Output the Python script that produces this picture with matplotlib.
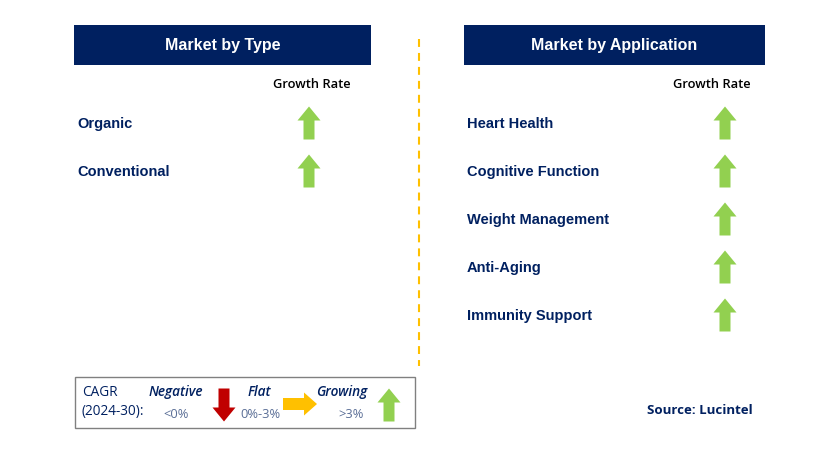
import matplotlib.pyplot as plt
from matplotlib.patches import Rectangle, Polygon

# ----------------------------
# Data
# ----------------------------
type_labels = ["Organic", "Conventional"]
type_growth = ["up", "up"]

app_labels = ["Heart Health", "Cognitive Function", "Weight Management",
              "Anti-Aging", "Immunity Support"]
app_growth = ["up", "up", "up", "up", "up"]

legend_names = ["Negative", "Flat", "Growing"]
legend_ranges = ["<0%", "0%-3%", ">3%"]
legend_dirs = ["down", "right", "up"]

NAVY = "#002060"
ARROW_COLORS = {"up": "#92D050", "down": "#C00000", "right": "#FFC000"}
BOLD_FONT = "Liberation Sans"
LIGHT_FONT = "Open Sans"


def arrow(ax, cx, cy, direction, length=33, width=23, head=14, shaft=11):
    # vertices for an up arrow centred at (0, 0); y grows downward on screen
    h = length / 2
    pts = [(-shaft / 2, h), (-shaft / 2, -h + head), (-width / 2, -h + head),
           (0, -h), (width / 2, -h + head), (shaft / 2, -h + head), (shaft / 2, h)]
    if direction == "down":
        pts = [(x, -y) for x, y in pts]
    elif direction == "right":
        pts = [(-y, x) for x, y in pts]
    pts = [(cx + x, cy + y) for x, y in pts]
    ax.add_patch(Polygon(pts, closed=True, color=ARROW_COLORS[direction], lw=0))


fig = plt.figure(figsize=(8.29, 4.54), dpi=100)
ax = fig.add_axes([0, 0, 1, 1])
ax.set_xlim(0, 829)
ax.set_ylim(454, 0)
ax.axis("off")

# ----------------------------
# Two panels
# ----------------------------
panels = [
    ("Market by Type", type_labels, type_growth, 74, 297, 77, 309, 312),
    ("Market by Application", app_labels, app_growth, 464, 301, 467, 725, 712),
]
for title, labels, growth, x0, w, lx, arrow_x, gr_x in panels:
    ax.add_patch(Rectangle((x0, 25), w, 40, color=NAVY, lw=0))
    ax.text(x0 + w / 2, 45.5, title, color="white", fontsize=11.5,
            fontweight="bold", family=BOLD_FONT, ha="center", va="center")
    ax.text(gr_x, 84, "Growth Rate", fontsize=9.3, family=LIGHT_FONT,
            fontweight="semibold", color="black", ha="center", va="center")
    for i, (lab, g) in enumerate(zip(labels, growth)):
        y = 124 + 48 * i
        ax.text(lx, y, lab, color=NAVY, fontsize=10.5, fontweight="bold",
                family=BOLD_FONT, ha="left", va="center")
        arrow(ax, arrow_x, y - 1, g)

# dashed divider
ax.plot([419, 419], [39, 366], color="#FFC000", lw=1.5, ls=(0, (3.8, 2.9)))

# ----------------------------
# Legend box
# ----------------------------
ax.add_patch(Rectangle((75, 377), 340, 51, fill=False, ec="#808080", lw=1))
ax.text(82, 392, "CAGR", color=NAVY, fontsize=9.8, family=LIGHT_FONT,
        ha="left", va="center")
ax.text(82, 412, "(2024-30):", color=NAVY, fontsize=9.8, family=LIGHT_FONT,
        ha="left", va="center")

name_x = [176, 259, 342]
range_x = [176, 260, 351]
arrow_pos = [(224, 405), (300, 404), (389, 405)]
for nm, rg, d, nx, rx, (ax_, ay) in zip(legend_names, legend_ranges, legend_dirs,
                                        name_x, range_x, arrow_pos):
    ax.text(nx, 392, nm, color=NAVY, fontsize=9.8, fontstyle="italic",
            fontweight="semibold", family=LIGHT_FONT, ha="center", va="center")
    ax.text(rx, 414, rg, color="#5A6E96", fontsize=9.3, family=LIGHT_FONT,
            ha="center", va="center")
    if d == "right":
        arrow(ax, ax_, ay, d, length=34, width=23, head=13, shaft=12)
    else:
        arrow(ax, ax_, ay, d)

ax.text(700, 410, "Source: Lucintel", color=NAVY, fontsize=9.5,
        fontweight="bold", family=LIGHT_FONT, ha="center", va="center")

fig.savefig("out.png", dpi=100)
